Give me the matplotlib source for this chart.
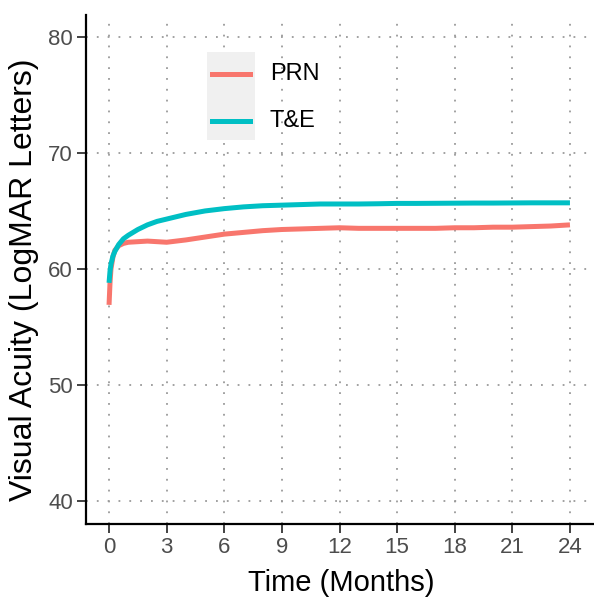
import matplotlib
matplotlib.use('Agg')
import matplotlib.pyplot as plt
from matplotlib.patches import Rectangle

plt.rcParams['font.family'] = ['Liberation Sans', 'DejaVu Sans']

# time in months
months = [0, 0.05, 0.1, 0.2, 0.3, 0.5, 0.75, 1, 1.5, 2, 2.5, 3, 4, 5, 6, 7, 8,
          9, 10, 11, 12, 13, 14, 15, 16, 17, 18, 19, 20, 21, 22, 23, 24]
prn = [56.9, 58.8, 60.0, 61.0, 61.6, 62.0, 62.2, 62.3, 62.35, 62.4, 62.35, 62.3,
       62.5, 62.75, 63.0, 63.15, 63.3, 63.4, 63.45, 63.5, 63.55, 63.5, 63.5, 63.5,
       63.5, 63.5, 63.55, 63.55, 63.6, 63.6, 63.65, 63.7, 63.8]
tae = [58.8, 59.8, 60.4, 61.1, 61.5, 62.1, 62.6, 62.9, 63.4, 63.8, 64.1, 64.3,
       64.7, 65.0, 65.2, 65.35, 65.45, 65.5, 65.55, 65.6, 65.6, 65.6, 65.62, 65.65,
       65.65, 65.66, 65.67, 65.68, 65.68, 65.69, 65.7, 65.7, 65.7]

series = [('PRN', prn, '#F8766D'), ('T&E', tae, '#00BFC4')]
xticks = list(range(0, 25, 3))
yticks = [40, 50, 60, 70, 80]

fig = plt.figure(figsize=(5.94, 5.97), dpi=100)
ax = fig.add_axes([86/594, 73/597, 507/594, 509/597])

for name, vals, col in series:
    ax.plot(months, vals, color=col, lw=3.6, solid_capstyle='butt', zorder=3)

ax.set_xlim(-1.2, 25.2)
ax.set_ylim(38.0, 81.9)
ax.set_xticks(xticks)
ax.set_yticks(yticks)
ax.grid(True, color='#9a9a9a', linestyle=(0, (1, 5)), lw=1.3)
ax.set_axisbelow(True)

for s in ['top', 'right']:
    ax.spines[s].set_visible(False)
for s in ['left', 'bottom']:
    ax.spines[s].set_linewidth(1.6)
ax.tick_params(length=6.5, width=1.3, color='#333333', labelsize=16,
               labelcolor='#4D4D4D', pad=3)

ax.set_xlabel('Time (Months)', fontsize=21, va='center')
ax.xaxis.set_label_coords(0.503, -0.116)
ax.set_ylabel('Visual Acuity (LogMAR Letters)', fontsize=23, va='center')
ax.yaxis.set_label_coords(-0.122, 0.479)

# legend drawn by hand: grey key box, coloured keys, labels on white
leg_box = Rectangle((207/594, 1 - 140/597), 48/594, 88/597, transform=fig.transFigure,
                    facecolor='#F0F0F0', edgecolor='none', zorder=5)
fig.patches.append(leg_box)
for (name, vals, col), ypx in zip(series, [74, 121]):
    yf = 1 - ypx/597
    fig.lines.append(plt.Line2D([212/594, 250/594], [yf, yf], transform=fig.transFigure,
                                color=col, lw=3.6, zorder=6))
    fig.text(270/594, yf, name, fontsize=17, va='center', ha='left', color='black')

fig.savefig('out.png', dpi=100)
